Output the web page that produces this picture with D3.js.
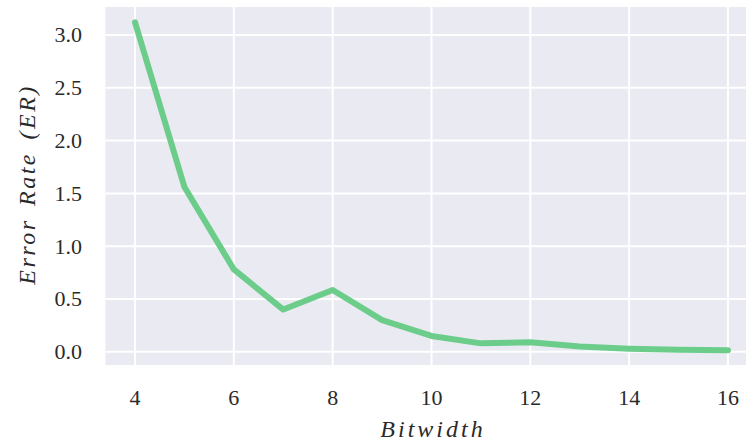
<!DOCTYPE html>
<html>
<head>
<meta charset="utf-8">
<script src="https://cdn.jsdelivr.net/npm/d3@7"></script>
<style>
  body { margin: 0; background: #fff; }
  svg { display: block; }
  text { font-family: "Liberation Serif", "DejaVu Serif", serif; fill: #2a2a2a; }
</style>
</head>
<body>
<svg id="chart" width="746" height="443"></svg>
<script>
// Data
const bitwidths = [4, 5, 6, 7, 8, 9, 10, 11, 12, 13, 14, 15, 16];
const errorRates = [3.12, 1.56, 0.78, 0.40, 0.585, 0.30, 0.15, 0.08, 0.09, 0.05, 0.03, 0.02, 0.015];
const xTicks = [4, 6, 8, 10, 12, 14, 16];
const yTicks = [0.0, 0.5, 1.0, 1.5, 2.0, 2.5, 3.0];

const svg = d3.select("#chart");

// axes box (right side runs past the window like the original)
const plot = { left: 105.4, right: 757.6, top: 7, bottom: 365 };

const x = d3.scaleLinear().domain([3.4, 16.6]).range([plot.left, plot.right]);
const y = d3.scaleLinear().domain([-0.125, 3.265]).range([plot.bottom, plot.top]);

// background
svg.append("rect")
    .attr("x", plot.left)
    .attr("y", plot.top)
    .attr("width", plot.right - plot.left)
    .attr("height", plot.bottom - plot.top)
    .attr("fill", "#eaeaf2");

// grid lines
const g = svg.append("g");
g.selectAll(".vgrid")
    .data(xTicks)
    .enter().append("line")
    .attr("x1", d => x(d)).attr("x2", d => x(d))
    .attr("y1", plot.top).attr("y2", plot.bottom)
    .attr("stroke", "#fff").attr("stroke-width", 2);

g.selectAll(".hgrid")
    .data(yTicks)
    .enter().append("line")
    .attr("x1", plot.left).attr("x2", plot.right)
    .attr("y1", d => y(d)).attr("y2", d => y(d))
    .attr("stroke", "#fff").attr("stroke-width", 2);

// tick labels
svg.append("g").selectAll("text")
    .data(xTicks)
    .enter().append("text")
    .attr("x", d => x(d))
    .attr("y", 405)
    .attr("text-anchor", "middle")
    .attr("font-size", 22)
    .text(d => d);

svg.append("g").selectAll("text")
    .data(yTicks)
    .enter().append("text")
    .attr("x", 82)
    .attr("y", d => y(d) + 7.5)
    .attr("text-anchor", "end")
    .attr("font-size", 22)
    .text(d => d.toFixed(1));

// the line
const line = d3.line()
    .x((d, i) => x(bitwidths[i]))
    .y(d => y(d));

svg.append("path")
    .datum(errorRates)
    .attr("d", line)
    .attr("fill", "none")
    .attr("stroke", "#6ccd8b")
    .attr("stroke-width", 6)
    .attr("stroke-linejoin", "round")
    .attr("stroke-linecap", "round");

// axis labels (math italic in the original is wide, so spread the letters)
svg.append("text")
    .attr("x", (plot.left + plot.right) / 2 + 1.5)
    .attr("y", 437)
    .attr("text-anchor", "middle")
    .attr("font-size", 24)
    .attr("font-style", "italic")
    .attr("letter-spacing", 3)
    .text("Bitwidth");

svg.append("text")
    .attr("transform", "rotate(-90)")
    .attr("x", -(plot.top + plot.bottom) / 2 + 1.5)
    .attr("y", 35)
    .attr("text-anchor", "middle")
    .attr("font-size", 24)
    .attr("font-style", "italic")
    .attr("letter-spacing", 2.5)
    .attr("word-spacing", 4)
    .text("Error Rate (ER)");
</script>
</body>
</html>
